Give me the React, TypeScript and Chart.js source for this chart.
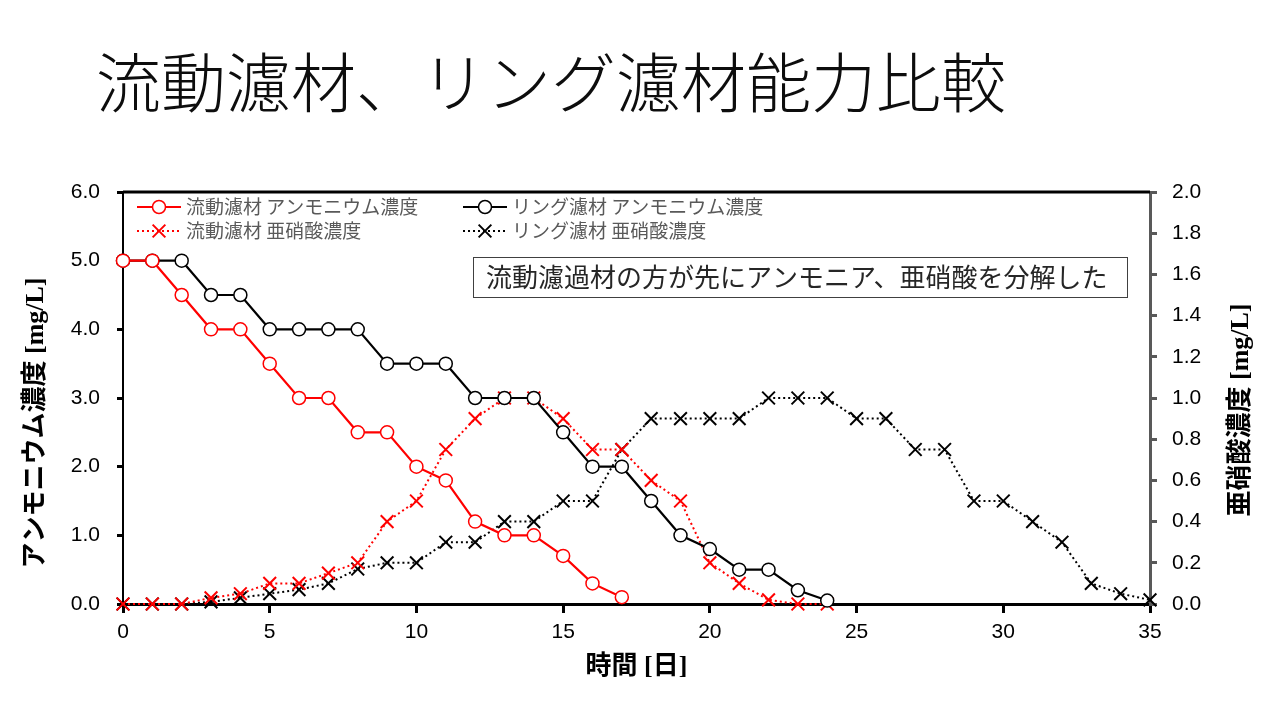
import React, { useEffect, useRef } from "react";
import { Chart, registerables } from "chart.js";

Chart.register(...registerables);

const TITLE = "流動濾材、リング濾材能力比較";
const NOTE = "流動濾過材の方が先にアンモニア、亜硝酸を分解した";
const X_TITLE = "時間 [日]";
const Y_LEFT_TITLE = "アンモニウム濃度 [mg/L]";
const Y_RIGHT_TITLE = "亜硝酸濃度 [mg/L]";

const LABEL_RYUDO_NH4 = "流動濾材 アンモニウム濃度";
const LABEL_RING_NH4 = "リング濾材 アンモニウム濃度";
const LABEL_RYUDO_NO2 = "流動濾材 亜硝酸濃度";
const LABEL_RING_NO2 = "リング濾材 亜硝酸濃度";

const days = [0, 1, 2, 3, 4, 5, 6, 7, 8, 9, 10, 11, 12, 13, 14, 15, 16, 17, 18, 19, 20, 21, 22, 23, 24, 25, 26, 27, 28, 29, 30, 31, 32, 33, 34, 35];

const ryudoAmmonium = [5.0, 5.0, 4.5, 4.0, 4.0, 3.5, 3.0, 3.0, 2.5, 2.5, 2.0, 1.8, 1.2, 1.0, 1.0, 0.7, 0.3, 0.1];
const ringAmmonium = [5.0, 5.0, 5.0, 4.5, 4.5, 4.0, 4.0, 4.0, 4.0, 3.5, 3.5, 3.5, 3.0, 3.0, 3.0, 2.5, 2.0, 2.0, 1.5, 1.0, 0.8, 0.5, 0.5, 0.2, 0.05];
const ryudoNitrite = [0, 0, 0, 0.03, 0.05, 0.1, 0.1, 0.15, 0.2, 0.4, 0.5, 0.75, 0.9, 1.0, 1.0, 0.9, 0.75, 0.75, 0.6, 0.5, 0.2, 0.1, 0.02, 0, 0];
const ringNitrite = [0, 0, 0, 0.01, 0.03, 0.05, 0.07, 0.1, 0.17, 0.2, 0.2, 0.3, 0.3, 0.4, 0.4, 0.5, 0.5, 0.75, 0.9, 0.9, 0.9, 0.9, 1.0, 1.0, 1.0, 0.9, 0.9, 0.75, 0.75, 0.5, 0.5, 0.4, 0.3, 0.1, 0.05, 0.02];

const toPoints = (vals: number[]) => vals.map((v, i) => ({ x: days[i], y: v }));

const RED = "#FF0000";
const BLACK = "#000000";
const TITLE_FONT = '"Liberation Serif", "Noto Sans CJK JP", serif';

const decorPlugin = {
  id: "decor",
  afterDraw(chart: any) {
    const { ctx, chartArea: ca } = chart;
    ctx.save();
    // top frame line
    ctx.strokeStyle = "#000";
    ctx.lineWidth = 3;
    ctx.beginPath();
    ctx.moveTo(ca.left, ca.top);
    ctx.lineTo(ca.right, ca.top);
    ctx.stroke();

    // legend
    const cols = [ca.left + 14, ca.left + 340];
    const rows = [ca.top + 15, ca.top + 39];
    chart.data.datasets.forEach((ds: any, i: number) => {
      const x0 = cols[i % 2];
      const y = rows[Math.floor(i / 2)];
      const len = 44;
      ctx.save();
      ctx.strokeStyle = ds.borderColor;
      ctx.lineWidth = ds.borderWidth;
      ctx.setLineDash(ds.borderDash || []);
      ctx.beginPath();
      ctx.moveTo(x0, y);
      ctx.lineTo(x0 + len, y);
      ctx.stroke();
      ctx.setLineDash([]);
      const cx = x0 + len / 2;
      ctx.strokeStyle = ds.pointBorderColor;
      ctx.lineWidth = ds.pointBorderWidth;
      if (ds.pointStyle === "circle") {
        ctx.fillStyle = "#fff";
        ctx.beginPath();
        ctx.arc(cx, y, ds.pointRadius, 0, Math.PI * 2);
        ctx.fill();
        ctx.stroke();
      } else {
        const r = ds.pointRadius * Math.SQRT1_2;
        ctx.beginPath();
        ctx.moveTo(cx - r, y - r);
        ctx.lineTo(cx + r, y + r);
        ctx.moveTo(cx - r, y + r);
        ctx.lineTo(cx + r, y - r);
        ctx.stroke();
      }
      ctx.fillStyle = "#595959";
      ctx.font = '19px "Noto Sans CJK JP"';
      ctx.textBaseline = "middle";
      ctx.textAlign = "left";
      ctx.fillText(ds.label, x0 + len + 5, y);
      ctx.restore();
    });

    // annotation box
    ctx.fillStyle = "#fff";
    ctx.fillRect(473, 257, 654, 40);
    ctx.strokeStyle = "#404040";
    ctx.lineWidth = 1;
    ctx.strokeRect(473.5, 257.5, 654, 40);
    ctx.fillStyle = "#262626";
    ctx.font = '26px "Noto Sans CJK JP"';
    ctx.textBaseline = "middle";
    ctx.textAlign = "left";
    ctx.fillText(NOTE, 486, 277);

    // y axis titles
    ctx.fillStyle = "#000";
    ctx.font = "bold 26px " + TITLE_FONT;
    ctx.textAlign = "center";
    ctx.textBaseline = "middle";
    ctx.save();
    ctx.translate(36, 423);
    ctx.rotate(-Math.PI / 2);
    ctx.fillText(Y_LEFT_TITLE, 0, 0);
    ctx.restore();
    ctx.save();
    ctx.translate(1241, 410);
    ctx.rotate(-Math.PI / 2);
    ctx.fillText(Y_RIGHT_TITLE, 0, 0);
    ctx.restore();

    ctx.restore();
  },
};

export default function App() {
  const canvasRef = useRef<HTMLCanvasElement | null>(null);

  useEffect(() => {
    if (!canvasRef.current) return;
    const tickFont = { family: '"Liberation Sans", Arial, sans-serif', size: 21 };
    const chart = new Chart(canvasRef.current, {
      type: "line",
      data: {
        datasets: [
          {
            label: LABEL_RYUDO_NH4,
            data: toPoints(ryudoAmmonium),
            yAxisID: "y",
            borderColor: RED,
            borderWidth: 2.2,
            pointStyle: "circle",
            pointRadius: 6.5,
            pointBorderColor: RED,
            pointBorderWidth: 1.5,
            pointBackgroundColor: "#fff",
            tension: 0,
            clip: false,
          },
          {
            label: LABEL_RING_NH4,
            data: toPoints(ringAmmonium),
            yAxisID: "y",
            borderColor: BLACK,
            borderWidth: 2.2,
            pointStyle: "circle",
            pointRadius: 6.5,
            pointBorderColor: BLACK,
            pointBorderWidth: 1.5,
            pointBackgroundColor: "#fff",
            tension: 0,
            clip: false,
          },
          {
            label: LABEL_RYUDO_NO2,
            data: toPoints(ryudoNitrite),
            yAxisID: "y2",
            borderColor: RED,
            borderWidth: 2,
            borderDash: [2, 3],
            pointStyle: "crossRot",
            pointRadius: 9,
            pointBorderColor: RED,
            pointBorderWidth: 2,
            tension: 0,
            clip: false,
          },
          {
            label: LABEL_RING_NO2,
            data: toPoints(ringNitrite),
            yAxisID: "y2",
            borderColor: BLACK,
            borderWidth: 2,
            borderDash: [2, 3],
            pointStyle: "crossRot",
            pointRadius: 9,
            pointBorderColor: BLACK,
            pointBorderWidth: 2,
            tension: 0,
            clip: false,
          },
        ] as any,
      },
      options: {
        animation: false,
        responsive: false,
        maintainAspectRatio: false,
        layout: { padding: { top: 192, left: 0, right: 0, bottom: 0 } },
        plugins: {
          legend: { display: false },
          tooltip: { enabled: false },
        },
        scales: {
          x: {
            type: "linear",
            min: 0,
            max: 35,
            afterFit: (s: any) => {
              s.height = 117;
            },
            ticks: { stepSize: 5, font: tickFont, color: "#000", padding: 7, maxRotation: 0 },
            grid: { drawOnChartArea: false, drawTicks: true, tickLength: 9, color: "#000", lineWidth: 3 },
            border: { display: true, color: "#000", width: 3 },
            title: {
              display: true,
              text: X_TITLE,
              color: "#000",
              font: { family: TITLE_FONT, size: 26, weight: "bold" },
              padding: { top: 0, bottom: 38 },
            },
          },
          y: {
            type: "linear",
            position: "left",
            min: 0,
            max: 6,
            afterFit: (s: any) => {
              s.width = 123;
            },
            ticks: {
              stepSize: 1,
              font: tickFont,
              color: "#000",
              padding: 17,
              callback: (v: any) => Number(v).toFixed(1),
            },
            grid: { drawOnChartArea: false, drawTicks: true, tickLength: 6, color: "#000", lineWidth: 3 },
            border: { display: true, color: "#000", width: 2 },
          },
          y2: {
            type: "linear",
            position: "right",
            min: 0,
            max: 2,
            afterFit: (s: any) => {
              s.width = 111;
            },
            ticks: {
              stepSize: 0.2,
              font: tickFont,
              color: "#000",
              padding: 15,
              callback: (v: any) => Number(v).toFixed(1),
            },
            grid: { drawOnChartArea: false, drawTicks: true, tickLength: 7, color: "#595959", lineWidth: 3 },
            border: { display: true, color: "#595959", width: 3 },
          },
        },
      } as any,
      plugins: [decorPlugin],
    });
    return () => chart.destroy();
  }, []);

  return (
    <div style={{ position: "fixed", left: 0, top: 0, width: 1261, height: 721, background: "#fff" }}>
      <div
        style={{
          position: "absolute",
          left: 96,
          top: 47,
          fontFamily: '"Noto Sans CJK JP Light", "Noto Sans CJK JP", sans-serif',
          fontWeight: 300,
          fontSize: 65,
          lineHeight: "65px",
          color: "#0d0d0d",
          whiteSpace: "nowrap",
        }}
      >
        {TITLE}
      </div>
      <canvas ref={canvasRef} width={1261} height={721} style={{ position: "absolute", left: 0, top: 0 }} />
    </div>
  );
}
